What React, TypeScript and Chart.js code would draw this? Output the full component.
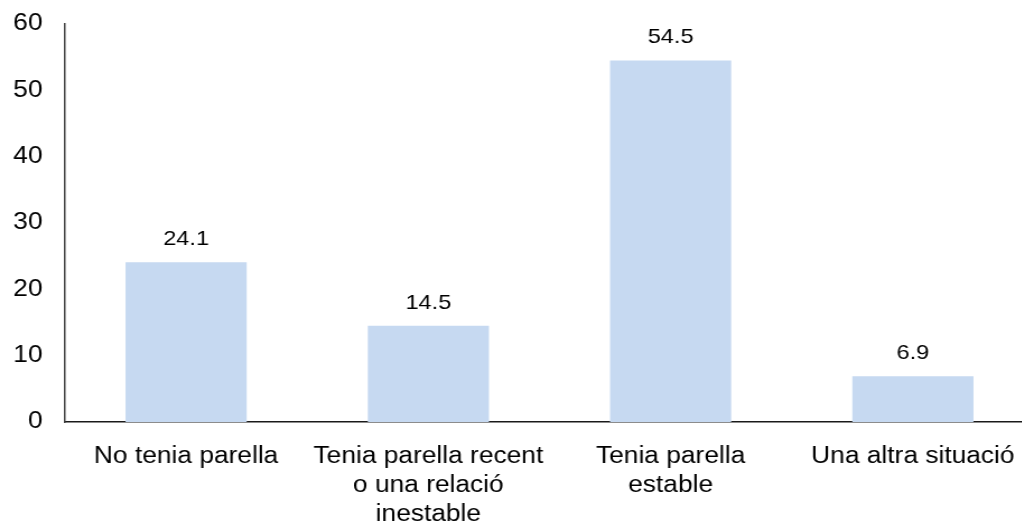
import React, { useEffect, useRef } from "react";
import { Chart, registerables } from "chart.js";

Chart.register(...registerables);

const categories: (string | string[])[] = [
  "No tenia parella",
  ["Tenia parella recent", "o una relació", "inestable"],
  ["Tenia parella", "estable"],
  "Una altra situació",
];
const values: number[] = [24.1, 14.5, 54.5, 6.9];
const yTicks: number[] = [0, 10, 20, 30, 40, 50, 60];

const FONT = "'Liberation Sans', Arial, sans-serif";
const STRETCH = 1.12;
const INNER_W = 923;
const H = 526;

const valueLabels = {
  id: "valueLabels",
  afterDatasetsDraw(chart: any) {
    const ctx = chart.ctx;
    const meta = chart.getDatasetMeta(0);
    ctx.save();
    ctx.font = `21px ${FONT}`;
    ctx.fillStyle = "#000";
    ctx.textAlign = "center";
    ctx.textBaseline = "alphabetic";
    meta.data.forEach((el: any, i: number) => {
      ctx.fillText(values[i].toFixed(1), el.x, el.y - 17);
    });
    ctx.restore();
  },
};

export default function App() {
  const ref = useRef<HTMLCanvasElement>(null);
  useEffect(() => {
    if (!ref.current) return;
    const chart = new Chart(ref.current, {
      type: "bar",
      data: {
        labels: categories as any,
        datasets: [
          {
            data: values,
            backgroundColor: "#C6D9F1",
            categoryPercentage: 1,
            barPercentage: 0.5,
          },
        ],
      },
      options: {
        responsive: false,
        animation: false,
        devicePixelRatio: 1,
        layout: { padding: { top: 24, left: 0, right: 0, bottom: 0 } },
        plugins: { legend: { display: false }, tooltip: { enabled: false } },
        scales: {
          x: {
            grid: { display: false, drawTicks: false },
            border: { display: true, color: "#1a1a1a", width: 1.5 },
            ticks: {
              color: "#000",
              font: { family: FONT, size: 23.5, lineHeight: 1.24 },
              padding: 20,
              maxRotation: 0,
              autoSkip: false,
            },
            afterFit: (s: any) => {
              s.height = 104;
              s.paddingLeft = 0;
              s.paddingRight = 0;
            },
          },
          y: {
            min: 0,
            max: 60,
            afterBuildTicks: (s: any) => {
              s.ticks = yTicks.map((v) => ({ value: v }));
            },
            grid: { display: false, drawTicks: false },
            border: { display: true, color: "#404040", width: 1.5 },
            ticks: {
              color: "#000",
              font: { family: FONT, size: 23.5 },
              padding: 20,
            },
            afterFit: (s: any) => {
              s.width = 58;
              s.paddingTop = 0;
              s.paddingBottom = 0;
            },
          },
        },
      },
      plugins: [valueLabels],
    });
    return () => chart.destroy();
  }, []);

  return (
    <div
      style={{
        position: "fixed",
        left: 0,
        top: 0,
        width: 1022,
        height: H,
        overflow: "hidden",
        background: "#fff",
      }}
    >
      <canvas
        ref={ref}
        width={INNER_W}
        height={H}
        style={{ width: `${Math.round(INNER_W * STRETCH)}px`, height: `${H}px`, display: "block" }}
      />
    </div>
  );
}
